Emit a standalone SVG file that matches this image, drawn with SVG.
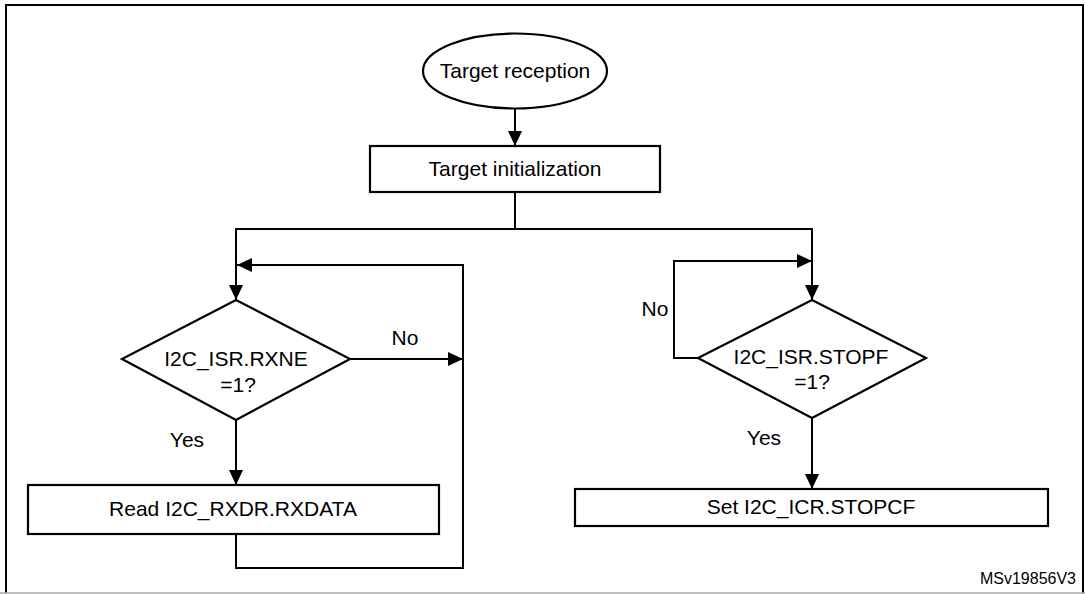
<svg xmlns="http://www.w3.org/2000/svg" width="1085" height="594" viewBox="0 0 1085 594">
<style>
.shape{fill:#fff;stroke:#000;stroke-width:2.2}
.conn{fill:none;stroke:#000;stroke-width:2}
.t{font-family:"Liberation Sans",Arial,sans-serif;font-size:21px;fill:#000;text-anchor:middle}
.small{font-family:"Liberation Sans",Arial,sans-serif;font-size:16px;fill:#000;text-anchor:end}
</style>
<defs>
<marker id="arr" markerUnits="userSpaceOnUse" markerWidth="15" markerHeight="14" refX="15" refY="7" orient="auto">
<path d="M0,0 L15,7 L0,14 z" fill="#000"/>
</marker>
</defs>
<rect x="0" y="0" width="1085" height="594" fill="#fff"/>
<g id="frame">
<path d="M6,593 V5 H1083 V593" fill="none" stroke="#000" stroke-width="2"/>
<line x1="0" y1="593" x2="1085" y2="593" stroke="#aaa" stroke-width="1.5"/>
</g>
<g id="connectors">
<path class="conn" d="M515,108 V146" marker-end="url(#arr)"/>
<path class="conn" d="M515,192 V229 H236 V300" marker-end="url(#arr)"/>
<path class="conn" d="M515,229 H812 V300" marker-end="url(#arr)"/>
<path class="conn" d="M236,534 V568 H463 V265 H237" marker-end="url(#arr)"/>
<path class="conn" d="M350,359 H463" marker-end="url(#arr)"/>
<path class="conn" d="M236,420 V485" marker-end="url(#arr)"/>
<path class="conn" d="M698,358 H674 V261 H812" marker-end="url(#arr)"/>
<path class="conn" d="M812,418 V489" marker-end="url(#arr)"/>
<text class="t" x="405" y="345">No</text>
<text class="t" x="187" y="447">Yes</text>
<text class="t" x="655" y="316">No</text>
<text class="t" x="764" y="445">Yes</text>
</g>
<g id="start">
<ellipse class="shape" cx="515" cy="71" rx="92" ry="37.5"/>
<text class="t" x="515" y="78">Target reception</text>
</g>
<g id="init">
<rect class="shape" x="370" y="146" width="290" height="46"/>
<text class="t" x="515" y="176">Target initialization</text>
</g>
<g id="rxne">
<polygon class="shape" points="236,300 350,359 236,420 122,359"/>
<text class="t" x="236" y="366">I2C_ISR.RXNE</text>
<text class="t" x="238" y="392">=1?</text>
</g>
<g id="read">
<rect class="shape" x="28" y="485" width="411" height="49"/>
<text class="t" x="233" y="516">Read I2C_RXDR.RXDATA</text>
</g>
<g id="stopf">
<polygon class="shape" points="812,300 926,358 812,418 698,358"/>
<text class="t" x="811" y="364">I2C_ISR.STOPF</text>
<text class="t" x="812" y="389">=1?</text>
</g>
<g id="setstop">
<rect class="shape" x="575" y="489" width="473" height="37"/>
<text class="t" x="811" y="514">Set I2C_ICR.STOPCF</text>
</g>
<text class="small" x="1076" y="584">MSv19856V3</text>
</svg>
